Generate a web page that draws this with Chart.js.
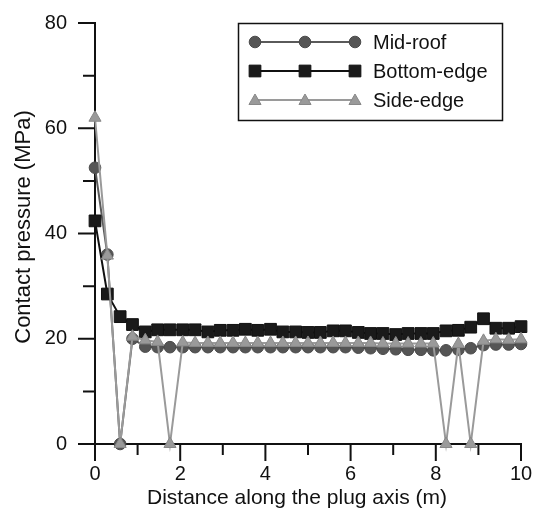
<!DOCTYPE html>
<html>
<head>
<meta charset="utf-8">
<script src="https://cdn.jsdelivr.net/npm/chart.js@4.4.1/dist/chart.umd.min.js"></script>
<style>
  html, body { margin: 0; padding: 0; background: #fff; }
  #wrap { width: 540px; height: 518px; }
</style>
</head>
<body>
<div id="wrap"><canvas id="chart" width="540" height="518"></canvas></div>
<script>
// Datos
const distance = [0, 0.29, 0.59, 0.88, 1.18, 1.47, 1.76, 2.06, 2.35, 2.65, 2.94, 3.24, 3.53, 3.82, 4.12, 4.41, 4.71, 5.0,
  5.29, 5.59, 5.88, 6.18, 6.47, 6.76, 7.06, 7.35, 7.65, 7.94, 8.24, 8.53, 8.82, 9.12, 9.41, 9.71, 10.0];
const midRoof = [52.5, 36.0, 0, 20.0, 18.5, 18.4, 18.4, 18.4, 18.4, 18.4, 18.4, 18.4, 18.4, 18.4, 18.4, 18.4, 18.4, 18.4,
  18.4, 18.4, 18.4, 18.3, 18.2, 18.1, 18.0, 17.9, 17.9, 17.8, 17.8, 17.9, 18.2, 18.8, 18.9, 18.9, 19.0];
const bottomEdge = [42.4, 28.5, 24.2, 22.7, 21.3, 21.7, 21.7, 21.7, 21.7, 21.3, 21.6, 21.6, 21.8, 21.6, 21.8, 21.3, 21.3, 21.2,
  21.2, 21.5, 21.5, 21.2, 21.0, 21.0, 20.8, 21.0, 21.0, 21.0, 21.5, 21.6, 22.2, 23.8, 22.0, 22.0, 22.3];
const sideEdge = [62.0, 35.8, 0, 20.4, 19.7, 19.4, 0, 19.3, 19.2, 19.2, 19.2, 19.2, 19.2, 19.2, 19.2, 19.2, 19.2, 19.2,
  19.2, 19.2, 19.2, 19.2, 19.2, 19.1, 19.1, 19.1, 19.1, 19.1, 0, 19.0, 0, 19.6, 19.9, 19.8, 19.9];
const seriesNames = ['Mid-roof', 'Bottom-edge', 'Side-edge'];
const xTicks = [0, 2, 4, 6, 8, 10];
const xMinor = [1, 3, 5, 7, 9];
const yTicks = [0, 20, 40, 60, 80];
const yMinor = [10, 30, 50, 70];
const xTitle = 'Distance along the plug axis (m)';
const yTitle = 'Contact pressure (MPa)';

const FONT = "'Liberation Sans', Arial, sans-serif";

const styles = [
  { line: '#5a5a5a', fill: '#555555', border: '#4a4a4a', pointStyle: 'circle', radius: 5.8 },
  { line: '#111111', fill: '#1a1a1a', border: '#111111', pointStyle: 'rect', radius: 8.3 },
  { line: '#9a9a9a', fill: '#9a9a9a', border: '#888888', pointStyle: 'triangle', radius: 7 }
];

const series = [midRoof, bottomEdge, sideEdge];
const datasets = series.map((vals, i) => ({
  label: seriesNames[i],
  data: vals.map((v, j) => ({ x: distance[j], y: v })),
  borderColor: styles[i].line,
  backgroundColor: styles[i].fill,
  pointBackgroundColor: styles[i].fill,
  pointBorderColor: styles[i].border,
  pointBorderWidth: 1,
  pointStyle: styles[i].pointStyle,
  pointRadius: styles[i].radius,
  borderWidth: 2,
  tension: 0,
  clip: false,
  order: 3 - i
}));

// Ejes, marcas, títulos y leyenda dibujados a mano
const axesPlugin = {
  id: 'axesPlugin',
  beforeDatasetsDraw(chart) {
    const { ctx, scales: { x, y } } = chart;
    const x0 = x.getPixelForValue(0), x1 = x.getPixelForValue(10);
    const y0 = y.getPixelForValue(0), y1 = y.getPixelForValue(80);
    ctx.save();
    ctx.strokeStyle = '#111';
    ctx.lineWidth = 2;
    ctx.lineCap = 'square';
    ctx.beginPath();
    ctx.moveTo(x0, y1); ctx.lineTo(x0, y0); ctx.lineTo(x1, y0);
    ctx.stroke();
    ctx.lineCap = 'butt';
    ctx.beginPath();
    xTicks.forEach(v => { const p = x.getPixelForValue(v); ctx.moveTo(p, y0); ctx.lineTo(p, y0 + 17); });
    xMinor.forEach(v => { const p = x.getPixelForValue(v); ctx.moveTo(p, y0); ctx.lineTo(p, y0 + 11); });
    yTicks.forEach(v => { const p = y.getPixelForValue(v); ctx.moveTo(x0, p); ctx.lineTo(x0 - 17, p); });
    yMinor.forEach(v => { const p = y.getPixelForValue(v); ctx.moveTo(x0, p); ctx.lineTo(x0 - 12, p); });
    ctx.stroke();
    ctx.restore();
  },
  afterDraw(chart) {
    const { ctx } = chart;
    ctx.save();
    // títulos
    ctx.fillStyle = '#111';
    ctx.font = '21px ' + FONT;
    ctx.textAlign = 'center';
    ctx.textBaseline = 'middle';
    ctx.fillText(xTitle, 297, 498);
    ctx.font = '22px ' + FONT;
    ctx.translate(24, 227);
    ctx.rotate(-Math.PI / 2);
    ctx.fillText(yTitle, 0, 0);
    ctx.restore();

    // leyenda
    ctx.save();
    ctx.strokeStyle = '#111';
    ctx.lineWidth = 1.5;
    ctx.strokeRect(238.5, 23.5, 264, 97);
    const rows = [42, 71, 100];
    seriesNames.forEach((name, i) => {
      const s = styles[i], yy = rows[i];
      ctx.strokeStyle = s.line;
      ctx.lineWidth = 2;
      ctx.beginPath(); ctx.moveTo(255, yy); ctx.lineTo(355, yy); ctx.stroke();
      [255, 305, 355].forEach(px => {
        ctx.fillStyle = s.fill;
        ctx.strokeStyle = s.border;
        ctx.lineWidth = 1;
        Chart.helpers.drawPoint(ctx, { pointStyle: s.pointStyle, radius: s.radius, borderWidth: 1, rotation: 0 }, px, i === 2 ? yy + 1 : yy);
      });
      ctx.fillStyle = '#111';
      ctx.font = '20px ' + FONT;
      ctx.textAlign = 'left';
      ctx.textBaseline = 'middle';
      ctx.fillText(name, 373, yy + 1);
    });
    ctx.restore();
  }
};

new Chart(document.getElementById('chart').getContext('2d'), {
  type: 'line',
  data: { datasets },
  options: {
    responsive: false,
    devicePixelRatio: 1,
    animation: false,
    layout: { padding: { top: 19, right: 19, left: 0, bottom: 0 } },
    plugins: { legend: { display: false }, tooltip: { enabled: false } },
    scales: {
      x: {
        type: 'linear', min: 0, max: 10,
        afterBuildTicks: s => { s.ticks = xTicks.map(v => ({ value: v })); },
        afterFit: s => { s.height = 74; },
        grid: { drawOnChartArea: false, color: 'transparent', tickLength: 17 },
        border: { display: false },
        ticks: { color: '#111', font: { family: FONT, size: 20 }, padding: 1, maxRotation: 0, autoSkip: false }
      },
      y: {
        type: 'linear', min: 0, max: 80,
        afterBuildTicks: s => { s.ticks = yTicks.map(v => ({ value: v })); },
        afterFit: s => { s.width = 95; },
        grid: { drawOnChartArea: false, color: 'transparent', tickLength: 17 },
        border: { display: false },
        ticks: { color: '#111', font: { family: FONT, size: 20 }, padding: 11 }
      }
    }
  },
  plugins: [axesPlugin]
});
</script>
</body>
</html>
